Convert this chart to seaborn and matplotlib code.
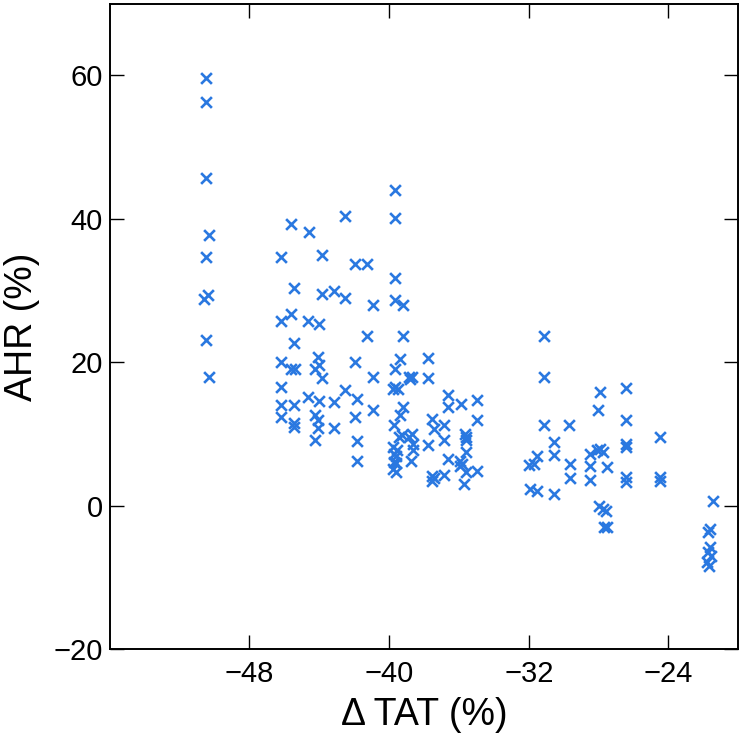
import matplotlib
matplotlib.use("Agg")
import matplotlib.pyplot as plt
import seaborn as sns
import pandas as pd

# Delta TAT (%) and AHR (%) values
delta_tat = [
    -50.5, -50.5, -50.5, -50.3, -50.5, -50.4, -50.6, -50.5, -50.3,
    -46.2, -46.2, -46.2, -46.2, -46.2, -46.2,
    -45.6, -45.45, -45.6, -45.45, -45.6, -45.4, -45.45, -45.45, -45.45,
    -44.6, -44.64, -44.64,
    -43.82, -43.82, -44.0, -44.09, -44.24, -44.01, -43.82, -44.0, -44.24, -44.09, -44.09, -44.24,
    -43.17, -43.17, -43.17,
    -42.5, -42.5, -42.5,
    -41.97, -41.97, -41.82, -41.97, -41.82, -41.82,
    -41.25, -41.25,
    -40.9, -40.9, -40.9,
    -39.64, -39.64, -39.64, -39.64, -39.64, -39.64, -39.8, -39.5, -39.7,
    -39.8, -39.55, -39.75, -39.6, -39.75, -39.6, -39.8, -39.6,
    -39.21, -39.21, -39.36, -38.87, -39.21, -39.36, -39.25, -39.44,
    -38.68, -38.83, -38.68, -38.87, -38.64, -38.64, -38.75,
    -37.76, -37.76, -37.8,
    -37.53, -37.41, -37.53, -37.41, -37.56,
    -36.83, -36.83, -36.83,
    -36.64, -36.64, -36.64,
    -35.87, -35.95, -35.8, -35.95,
    -35.68, -35.57, -35.57, -35.57, -35.57, -35.72,
    -34.95, -34.95, -34.95,
    -31.96, -31.73, -31.54, -31.92, -31.54,
    -31.14, -31.14, -31.14,
    -30.58, -30.58, -30.58,
    -29.7, -29.66, -29.66,
    -28.5, -28.5, -28.5,
    -28.1, -27.9, -27.74,
    -27.93, -28.03,
    -27.51,
    -27.97, -27.74, -27.55, -27.7, -27.5,
    -26.43, -26.43, -26.43, -26.43, -26.43, -26.43,
    -24.48, -24.48, -24.48,
    -21.45, -21.6, -21.75, -21.6, -21.75, -21.55, -21.8, -21.65,
]

ahr = [
    59.6, 56.3, 45.7, 37.8, 34.7, 29.4, 28.8, 23.1, 17.9,
    34.7, 25.7, 20.0, 16.6, 14.1, 12.3,
    39.3, 30.3, 26.8, 22.7, 19.1, 19.1, 14.1, 11.5, 11.0,
    38.1, 25.7, 15.1,
    34.9, 29.5, 25.3, 20.8, 19.1, 19.6, 17.8, 14.6, 12.6, 12.0, 10.9, 9.2,
    29.9, 14.4, 10.9,
    40.4, 28.9, 16.2,
    33.7, 20.0, 14.9, 12.4, 9.0, 6.3,
    33.7, 23.6,
    28.0, 17.9, 13.4,
    44.0, 40.1, 31.8, 28.7, 19.1, 16.5, 16.3, 16.3, 11.3,
    8.2, 7.7, 7.2, 7.0, 6.1, 5.9, 5.1, 4.7,
    28.0, 23.6, 20.5, 17.9, 13.7, 12.6, 9.8, 9.6,
    17.9, 17.6, 10.0, 9.6, 8.6, 7.7, 6.3,
    20.6, 17.8, 8.5,
    12.1, 10.7, 4.2, 3.9, 3.5,
    11.3, 9.2, 4.3,
    15.4, 13.7, 6.5,
    14.2, 6.3, 5.8, 5.6,
    10.0, 9.6, 9.1, 7.5, 4.7, 3.0,
    14.8, 12.0, 4.8,
    5.7, 5.8, 7.0, 2.3, 2.0,
    23.7, 17.9, 11.3,
    8.9, 7.1, 1.7,
    11.3, 5.8, 3.8,
    7.2, 5.6, 3.6,
    7.8, 7.9, 7.5,
    15.9, 13.3,
    5.4,
    -0.1, -0.5, -0.8, -2.9, -3.0,
    16.4, 12.0, 8.6, 8.2, 4.0, 3.3,
    9.6, 4.0, 3.5,
    0.7, -3.2, -3.6, -5.8, -6.5, -7.0, -7.9, -8.4,
]

x_ticks = [-48, -40, -32, -24]
y_ticks = [-20, 0, 20, 40, 60]

df = pd.DataFrame({"dTAT": delta_tat, "AHR": ahr})

sns.set_style("ticks")
plt.rcParams["font.family"] = ["Liberation Sans", "DejaVu Sans"]
plt.rcParams["text.color"] = "black"
plt.rcParams["axes.labelcolor"] = "black"
plt.rcParams["xtick.color"] = "black"
plt.rcParams["ytick.color"] = "black"

fig = plt.figure(figsize=(7.42, 7.36), dpi=100)
ax = fig.add_axes([0.148, 0.118, 0.847, 0.877])

sns.scatterplot(data=df, x="dTAT", y="AHR", ax=ax, marker="x",
                color="#2a78e0", s=60, linewidth=1.9)

ax.set_xlim(-56, -20)
ax.set_ylim(-20, 70)
ax.set_xticks(x_ticks)
ax.set_yticks(y_ticks)
ax.tick_params(direction="in", top=True, right=True, length=10, width=1,
               labelsize=21, colors="black")
ax.tick_params(axis="x", pad=8)
ax.tick_params(axis="y", pad=5)
for sp in ax.spines.values():
    sp.set_linewidth(1.4)
    sp.set_color("black")
ax.set_xlabel("Δ TAT (%)", fontsize=27, labelpad=6, color="black")
ax.set_ylabel("AHR (%)", fontsize=27, labelpad=10, color="black")

fig.savefig("out.png", dpi=100)
